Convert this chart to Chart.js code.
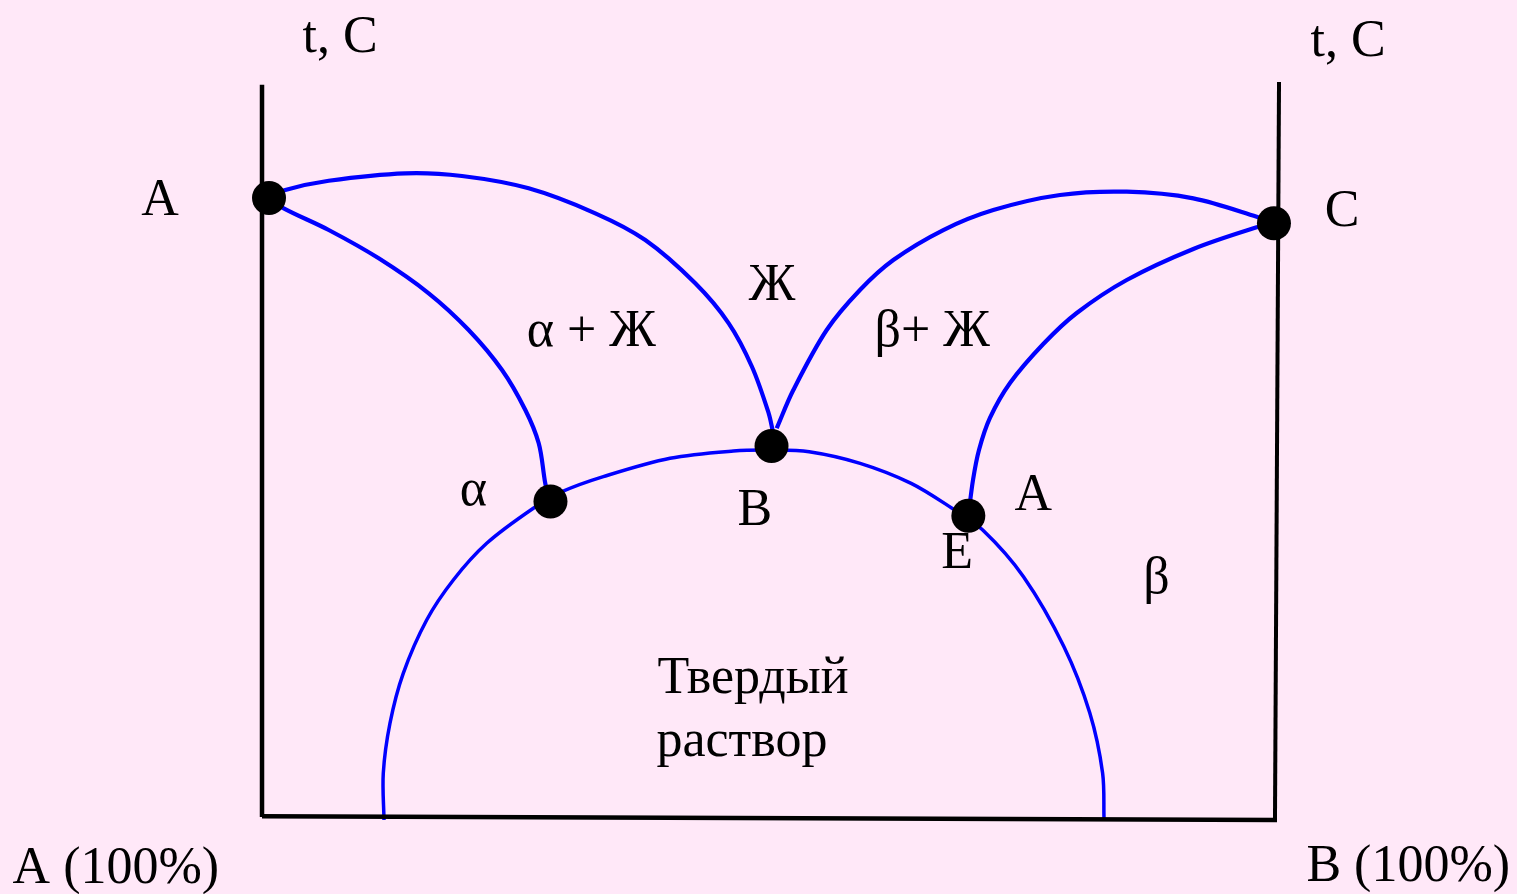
<!DOCTYPE html>
<html><head><meta charset="utf-8">
<script src="https://cdn.jsdelivr.net/npm/chart.js@4.4.1/dist/chart.umd.min.js"></script>
<style>html,body{margin:0;padding:0;background:#FFE8F8;overflow:hidden}canvas{display:block}</style>
</head><body><canvas id="c" width="1517" height="894"></canvas>
<script>
// composition of B, % (x) and temperature, relative units (y)
const axisLeft   = [[0, 100.3], [0, 0]];
const axisBottom = [[0, 0.1], [100.1, -0.4]];
const axisRight  = [[100.3, 100.7], [99.9, -0.4]];

const liquidusLeft = [[0.69, 84.79], [2.30, 85.89], [6.58, 87.16], [14.13, 88.18], [19.72, 87.81], [26.30, 86.12],
  [32.87, 82.70], [37.80, 79.04], [42.73, 73.11], [46.03, 67.63], [48.32, 61.68], [49.97, 55.30], [50.39, 52.74]];
const solidusLeft = [[0.69, 84.79], [2.14, 83.38], [6.58, 80.41], [11.51, 76.53], [16.44, 71.74], [20.38, 66.71],
  [23.67, 61.23], [25.97, 55.75], [27.29, 51.19], [27.88, 46.16], [28.06, 44.79]];
const liquidusRight = [[50.76, 53.25], [52.40, 58.49], [55.69, 66.71], [58.97, 72.19], [62.26, 76.30], [67.19, 80.41],
  [72.12, 83.15], [78.70, 85.21], [85.28, 85.66], [91.85, 84.75], [98.10, 82.23], [99.80, 81.33]];
const solidusRight = [[99.80, 81.33], [98.10, 80.78], [91.85, 77.81], [85.28, 73.56], [80.35, 69.04], [77.05, 64.79],
  [73.77, 59.45], [71.79, 54.66], [70.71, 50.27], [70.12, 46.16], [69.66, 41.27]];
const solvus = [[12.03, -0.41], [11.96, 5.99], [12.62, 12.84], [13.93, 19.68], [16.24, 26.99], [18.87, 32.47],
  [22.16, 37.49], [26.76, 42.29], [29.59, 44.56], [33.66, 46.62], [40.24, 49.14], [46.48, 50.14], [50.27, 50.27],
  [53.96, 50.04], [58.99, 48.45], [64.02, 45.71], [68.05, 42.29], [71.08, 39.32], [75.10, 32.92],
  [79.09, 23.33], [81.64, 14.25], [82.90, 6.03], [83.04, -0.14]];

const pointNames = ['A', 'α', 'B', 'E', 'C'];
const pointX = [0.69, 28.45, 50.25, 69.66, 99.80];
const pointY = [84.79, 43.22, 50.82, 41.27, 81.33];

const labelTexts = ['t, C', 't, C', 'A', 'C', 'Ж', 'α + Ж', 'β+ Ж', 'α', 'B', 'A', 'E', 'β', 'Твердый', 'раствор', 'A (100%)', 'B (100%)'];
const labelX = [4.0, 103.4, -11.9, 104.8, 48.0, 26.1, 60.4, 19.5, 46.9, 74.2, 67.0, 86.9, 39.0, 38.9, -24.6, 103.0];
const labelY = [104.8, 104.3, 82.5, 80.9, 70.8, 64.5, 64.5, 42.7, 40.0, 42.0, 34.1, 30.7, 17.0, 8.3, -9.0, -8.8];

const toXY = a => a.map(p => ({x: p[0], y: p[1]}));
const blue = '#0000FF';
function lineSet(data, color, width, tension) {
  return {data: toXY(data), showLine: true, borderColor: color, borderWidth: width, pointRadius: 0,
    pointHoverRadius: 0, fill: false, tension: tension, order: 1, borderCapStyle: 'butt'};
}

const bgPlugin = {
  id: 'bg',
  beforeDraw(chart) {
    const c = chart.ctx;
    c.save(); c.fillStyle = '#FFE8F8'; c.fillRect(0, 0, chart.width, chart.height); c.restore();
  }
};
const labelPlugin = {
  id: 'labels',
  afterDatasetsDraw(chart) {
    const c = chart.ctx, sx = chart.scales.x, sy = chart.scales.y;
    c.save();
    c.fillStyle = '#000';
    c.font = '52px "Liberation Serif", "Times New Roman", serif';
    c.textAlign = 'left';
    c.textBaseline = 'alphabetic';
    labelTexts.forEach((t, i) => c.fillText(t, sx.getPixelForValue(labelX[i]), sy.getPixelForValue(labelY[i])));
    c.restore();
  }
};

const T = 0.33;
new Chart(document.getElementById('c'), {
  type: 'scatter',
  data: {
    datasets: [
      {label: 'points', data: pointX.map((x, i) => ({x: x, y: pointY[i]})), pointRadius: 17, pointHoverRadius: 17,
        backgroundColor: '#000', borderColor: '#000', borderWidth: 0, showLine: false, order: 0},
      lineSet(axisLeft, '#000', 4.5, 0),
      lineSet(axisBottom, '#000', 4.5, 0),
      lineSet(axisRight, '#000', 4, 0),
      lineSet(liquidusLeft, blue, 4.2, T),
      lineSet(solidusLeft, blue, 4.2, T),
      lineSet(liquidusRight, blue, 4.2, T),
      lineSet(solidusRight, blue, 4.2, T),
      lineSet(solvus, blue, 3.5, T)
    ]
  },
  options: {
    responsive: false,
    devicePixelRatio: 1,
    animation: false,
    layout: {padding: 0, autoPadding: false},
    plugins: {legend: {display: false}, tooltip: {enabled: false}, title: {display: false}},
    events: [],
    scales: {
      x: {type: 'linear', min: -25.84, max: 123.77, display: false},
      y: {type: 'linear', min: -10.55, max: 111.92, display: false}
    }
  },
  plugins: [bgPlugin, labelPlugin]
});
</script>
</body></html>
